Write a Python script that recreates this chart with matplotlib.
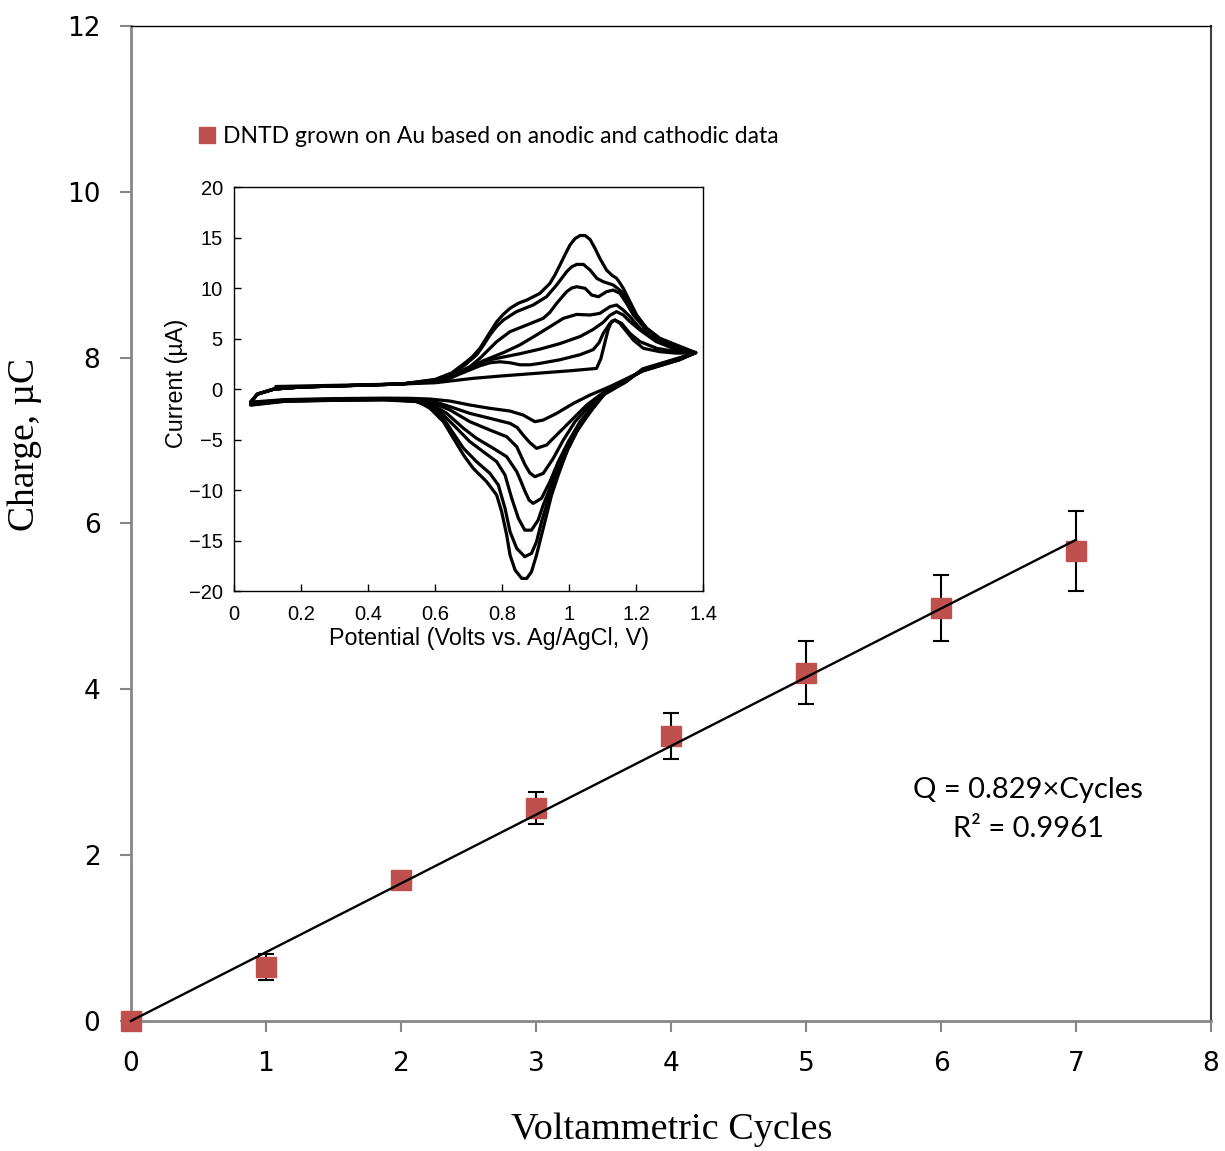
import matplotlib
matplotlib.use("Agg")
import matplotlib.pyplot as plt

# main chart: charge vs cycle number
cycles = [0, 1, 2, 3, 4, 5, 6, 7]
charge = [0.0, 0.65, 1.70, 2.57, 3.44, 4.20, 4.98, 5.67]
charge_err = [0.0, 0.16, 0.08, 0.19, 0.28, 0.38, 0.40, 0.48]
slope = 0.829
legend_label = "DNTD grown on Au based on anodic and cathodic data"

# inset: cyclic voltammograms, one loop per cycle (forward sweep then reverse sweep)
cv_v1 = [0.125, 0.2, 0.35, 0.5, 0.6, 0.714, 0.8, 0.9, 1.0, 1.082, 1.095, 1.107, 1.117, 1.127, 1.137,
         1.152, 1.172, 1.192, 1.222, 1.271, 1.321, 1.378,
         1.33, 1.28, 1.22, 1.17, 1.122, 1.063, 1.013, 0.963, 0.923, 0.898, 0.863, 0.824, 0.764, 0.704,
         0.645, 0.585, 0.525, 0.45, 0.3, 0.15, 0.05]
cv_i1 = [0.25, 0.3, 0.4, 0.5, 0.62, 1.06, 1.3, 1.55, 1.8, 2.04, 3.0, 4.6, 5.9, 6.7, 6.83,
         6.5, 5.68, 4.85, 4.03, 3.7, 3.55, 3.6,
         2.9, 2.4, 1.8, 1.0, 0.24, -0.59, -1.42, -2.41, -3.07, -3.23, -2.57, -2.18, -1.91, -1.58,
         -1.19, -0.99, -0.92, -0.9, -0.95, -1.05, -1.3]

cv_v2 = [0.05, 0.07, 0.12, 0.2, 0.35, 0.5, 0.6, 0.64, 0.675, 0.734, 0.764, 0.794, 0.824, 0.854, 0.884,
         0.913, 0.973, 1.033, 1.072, 1.09, 1.102, 1.122, 1.137, 1.157, 1.182, 1.212, 1.262, 1.321, 1.378,
         1.33, 1.28, 1.22, 1.17, 1.112, 1.053, 1.003, 0.963, 0.933, 0.903, 0.883, 0.863, 0.845, 0.824,
         0.764, 0.704, 0.645, 0.585, 0.525, 0.45, 0.3, 0.15, 0.05]
cv_i2 = [-1.3, -0.5, 0.0, 0.2, 0.35, 0.5, 0.75, 1.0, 1.5, 2.3, 2.6, 2.7, 2.6, 2.4, 2.4,
         2.54, 2.9, 3.4, 3.9, 4.6, 5.5, 6.5, 6.83, 6.5, 5.5, 4.69, 4.03, 3.7, 3.6,
         2.9, 2.4, 1.8, 0.95, -0.1, -1.58, -3.23, -4.55, -5.54, -5.87, -5.3, -4.55, -3.8, -3.4,
         -2.9, -2.41, -1.75, -1.09, -0.95, -0.95, -1.0, -1.1, -1.35]

cv_v3 = [0.05, 0.07, 0.12, 0.2, 0.35, 0.5, 0.6, 0.64, 0.675, 0.704, 0.734, 0.764, 0.794, 0.854, 0.913,
         0.973, 1.033, 1.072, 1.102, 1.122, 1.142, 1.162, 1.182, 1.212, 1.26, 1.32, 1.378,
         1.33, 1.28, 1.22, 1.17, 1.112, 1.063, 1.018, 0.983, 0.953, 0.923, 0.898, 0.883, 0.869, 0.855,
         0.844, 0.814, 0.764, 0.704, 0.645, 0.585, 0.525, 0.45, 0.3, 0.15, 0.05]
cv_i3 = [-1.3, -0.5, 0.0, 0.2, 0.35, 0.5, 0.8, 1.1, 1.6, 2.1, 2.6, 2.9, 3.1, 3.5, 3.95,
         4.5, 5.2, 5.9, 6.6, 7.3, 7.66, 7.33, 6.67, 5.84, 4.7, 3.9, 3.6,
         2.95, 2.45, 1.8, 0.9, -0.26, -1.58, -3.23, -5.05, -6.86, -8.35, -8.68, -8.3, -7.52, -6.5,
         -5.71, -4.72, -4.06, -3.23, -2.08, -1.25, -1.0, -0.97, -1.02, -1.12, -1.4]

cv_v4 = [0.05, 0.07, 0.12, 0.2, 0.35, 0.5, 0.6, 0.65, 0.704, 0.744, 0.804, 0.853, 0.903, 0.943, 0.983,
         1.023, 1.063, 1.092, 1.122, 1.142, 1.162, 1.182, 1.212, 1.26, 1.32, 1.378,
         1.33, 1.28, 1.22, 1.17, 1.112, 1.073, 1.033, 0.998, 0.968, 0.943, 0.918, 0.893, 0.881, 0.869,
         0.856, 0.844, 0.814, 0.774, 0.724, 0.685, 0.635, 0.585, 0.525, 0.45, 0.3, 0.15, 0.05]
cv_i4 = [-1.3, -0.5, 0.0, 0.2, 0.35, 0.5, 0.8, 1.3, 2.0, 2.8, 3.6, 4.36, 5.35, 6.17, 7.0,
         7.39, 7.33, 7.49, 8.15, 8.32, 7.82, 7.16, 6.01, 4.9, 4.0, 3.6,
         3.0, 2.5, 1.85, 0.85, -0.26, -1.58, -3.23, -5.21, -7.19, -9.17, -10.82, -11.32, -11.0, -10.16,
         -9.1, -8.18, -6.7, -5.87, -4.88, -3.89, -2.41, -1.42, -1.1, -1.0, -1.05, -1.15, -1.45]

cv_v5 = [0.05, 0.07, 0.12, 0.2, 0.35, 0.5, 0.6, 0.65, 0.704, 0.734, 0.76, 0.784, 0.824, 0.874, 0.923,
         0.943, 0.963, 0.993, 1.008, 1.023, 1.048, 1.068, 1.088, 1.112, 1.132, 1.152, 1.172, 1.192, 1.222,
         1.26, 1.32, 1.378,
         1.33, 1.28, 1.22, 1.17, 1.107, 1.073, 1.033, 0.998, 0.968, 0.943, 0.923, 0.908, 0.888, 0.868,
         0.849, 0.829, 0.809, 0.784, 0.744, 0.704, 0.665, 0.625, 0.585, 0.54, 0.45, 0.3, 0.15, 0.05]
cv_i5 = [-1.3, -0.5, 0.0, 0.2, 0.35, 0.5, 0.85, 1.4, 2.2, 3.04, 3.9, 4.69, 5.68, 6.34, 7.0,
         7.6, 8.48, 9.64, 10.0, 10.13, 9.97, 9.3, 9.14, 9.64, 9.8, 9.47, 8.48, 7.33, 6.17,
         5.0, 4.1, 3.6,
         3.0, 2.5, 1.9, 0.8, -0.43, -1.75, -3.56, -5.71, -7.85, -9.83, -11.49, -12.97, -13.97, -13.97,
         -12.81, -10.82, -8.51, -7.19, -6.2, -5.21, -3.89, -2.57, -1.58, -1.15, -1.02, -1.08, -1.18, -1.5]

cv_v6 = [0.05, 0.07, 0.12, 0.2, 0.35, 0.5, 0.6, 0.65, 0.69, 0.724, 0.744, 0.764, 0.784, 0.804, 0.843,
         0.893, 0.933, 0.963, 0.993, 1.008, 1.023, 1.043, 1.063, 1.083, 1.102, 1.132, 1.157, 1.182, 1.202,
         1.232, 1.271, 1.321, 1.378,
         1.33, 1.28, 1.22, 1.17, 1.107, 1.068, 1.028, 0.998, 0.973, 0.953, 0.933, 0.918, 0.903, 0.888,
         0.868, 0.844, 0.824, 0.809, 0.789, 0.764, 0.724, 0.685, 0.655, 0.625, 0.585, 0.54, 0.45, 0.3,
         0.15, 0.05]
cv_i6 = [-1.3, -0.5, 0.0, 0.2, 0.35, 0.5, 0.9, 1.5, 2.4, 3.37, 4.3, 5.35, 6.2, 6.83, 7.66,
         8.32, 9.14, 10.3, 11.62, 12.1, 12.34, 12.34, 11.78, 10.96, 10.63, 10.3, 9.64, 8.32, 7.16,
         6.0, 5.0, 4.3, 3.6,
         3.05, 2.55, 1.95, 0.75, -0.43, -2.08, -3.89, -5.87, -7.85, -9.5, -11.49, -13.14, -15.12, -16.27,
         -16.6, -15.78, -14.13, -11.81, -9.5, -8.35, -7.19, -5.87, -4.39, -2.9, -1.75, -1.2, -1.05, -1.1,
         -1.2, -1.55]

cv_v7 = [0.05, 0.07, 0.12, 0.2, 0.35, 0.5, 0.6, 0.65, 0.69, 0.712, 0.734, 0.76, 0.784, 0.804, 0.824,
         0.849, 0.874, 0.913, 0.943, 0.958, 0.973, 0.988, 1.003, 1.018, 1.033, 1.048, 1.063, 1.078, 1.092,
         1.112, 1.127, 1.142, 1.152, 1.162, 1.182, 1.202, 1.232, 1.271, 1.321, 1.378,
         1.33, 1.28, 1.22, 1.17, 1.102, 1.063, 1.023, 0.993, 0.968, 0.948, 0.933, 0.918, 0.903, 0.888,
         0.874, 0.859, 0.839, 0.824, 0.814, 0.799, 0.784, 0.754, 0.714, 0.685, 0.655, 0.625, 0.585, 0.55,
         0.45, 0.3, 0.15, 0.05]
cv_i7 = [-1.3, -0.5, 0.0, 0.2, 0.35, 0.5, 0.95, 1.6, 2.6, 3.2, 4.03, 5.4, 6.66, 7.4, 7.99,
         8.5, 8.81, 9.47, 10.46, 11.3, 12.28, 13.3, 14.26, 14.9, 15.2, 15.2, 14.8, 13.9, 12.94,
         11.78, 11.3, 10.96, 10.5, 9.97, 8.65, 7.33, 6.01, 5.02, 4.36, 3.6,
         3.1, 2.6, 2.0, 0.7, -0.59, -2.24, -4.22, -6.2, -8.51, -10.49, -12.48, -14.46, -16.44, -18.09,
         -18.75, -18.75, -17.92, -16.44, -14.46, -12.15, -10.49, -9.17, -7.85, -6.53, -4.88, -3.23, -1.91, -1.25,
         -1.08, -1.12, -1.22, -1.6]

cv_v = [cv_v1, cv_v2, cv_v3, cv_v4, cv_v5, cv_v6, cv_v7]
cv_i = [cv_i1, cv_i2, cv_i3, cv_i4, cv_i5, cv_i6, cv_i7]

red = '#C0504D'
grey = '#868686'

fig = plt.figure(figsize=(12.25, 11.51), dpi=100)
ax = fig.add_axes([0.1069, 0.1130, 0.8817, 0.8644])

ax.errorbar(cycles, charge, yerr=charge_err, fmt='none', ecolor='black',
            elinewidth=1.5, capsize=6, capthick=1.5, zorder=2, clip_on=False)
ax.plot(cycles, charge, 's', color=red, ms=14, mec=red, zorder=3, clip_on=False,
        label=legend_label)
ax.plot([cycles[0], cycles[-1]], [slope * cycles[0], slope * cycles[-1]], '-', color='black',
        lw=1.7, zorder=4, clip_on=False)

ax.set_xlim(0, 8)
ax.set_ylim(0, 12)
ax.set_xticks(range(0, 9))
ax.set_yticks(range(0, 13, 2))
ax.spines['left'].set_color(grey)
ax.spines['left'].set_linewidth(2)
ax.spines['bottom'].set_color(grey)
ax.spines['bottom'].set_linewidth(2)
ax.spines['top'].set_color('black')
ax.spines['top'].set_linewidth(1)
ax.spines['right'].set_color('#404040')
ax.spines['right'].set_linewidth(1.5)
ax.tick_params(direction='out', length=8, width=1.5, color=grey, labelsize=19, pad=14)

fig.text(672 / 1225, 1 - 1130 / 1151, 'Voltammetric Cycles', family='Liberation Serif',
         fontsize=27.5, ha='center', va='center')
fig.text(25 / 1225, 1 - 445 / 1151, 'Charge, \u00b5C', family='Liberation Serif',
         fontsize=27, ha='center', va='center', rotation=90)

leg = ax.legend(loc='center left', bbox_to_anchor=(0.0618, 0.8894), frameon=False,
                handlelength=0.8, handletextpad=0.3, borderpad=0, borderaxespad=0,
                markerscale=0.8, prop={'family': 'Lato', 'size': 16.5})

ax.text(0.8306, 0.2322, 'Q = 0.829\u00d7Cycles', transform=ax.transAxes, family='Lato',
        fontsize=21, ha='center', va='center')
ax.text(0.8306, 0.193, 'R\u00b2 = 0.9961', transform=ax.transAxes, family='Lato',
        fontsize=21, ha='center', va='center')

# inset
ax2 = fig.add_axes([0.1910, 0.4865, 0.3829, 0.3510])
for v, i in zip(cv_v, cv_i):
    ax2.plot(v, i, '-', color='black', lw=2.3, solid_joinstyle='round', solid_capstyle='round')
ax2.set_xlim(0, 1.4)
ax2.set_ylim(-20, 20)
ax2.set_xticks([0, 0.2, 0.4, 0.6, 0.8, 1.0, 1.2, 1.4])
ax2.set_xticklabels(['0', '0.2', '0.4', '0.6', '0.8', '1', '1.2', '1.4'])
ax2.set_yticks(range(-20, 21, 5))
for s in ax2.spines.values():
    s.set_color('black')
    s.set_linewidth(1)
ax2.tick_params(direction='in', length=5, width=1, labelsize=14.5)
ax2.tick_params(axis='x', pad=10)
ax2.tick_params(axis='y', pad=8)
for lab in ax2.get_xticklabels() + ax2.get_yticklabels():
    lab.set_family('Liberation Sans')
fig.text(489 / 1225, 1 - 639 / 1151, 'Potential (Volts vs. Ag/AgCl, V)', family='Liberation Sans',
         fontsize=16.8, ha='center', va='center')
fig.text(176 / 1225, 1 - 383 / 1151, 'Current (\u00b5A)', family='Liberation Sans',
         fontsize=16.8, ha='center', va='center', rotation=90)

fig.savefig('out.png', dpi=100)
